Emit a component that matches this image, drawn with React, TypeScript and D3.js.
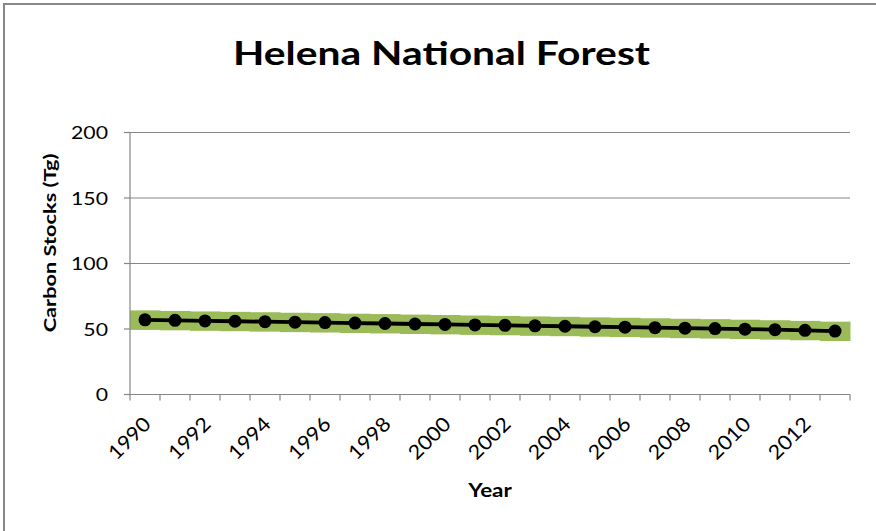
import React, { useEffect } from "react";
import * as d3 from "d3";

const years = [1990, 1991, 1992, 1993, 1994, 1995, 1996, 1997, 1998, 1999, 2000, 2001, 2002, 2003, 2004, 2005, 2006, 2007, 2008, 2009, 2010, 2011, 2012, 2013];
const carbon = [57.0, 56.6, 56.2, 55.9, 55.6, 55.2, 54.9, 54.5, 54.2, 53.8, 53.5, 53.1, 52.8, 52.4, 52.1, 51.7, 51.4, 51.0, 50.6, 50.3, 49.9, 49.5, 49.0, 48.4];
const bandHigh = [64.2, 63.8, 63.4, 63.1, 62.8, 62.4, 62.1, 61.7, 61.4, 61.0, 60.7, 60.3, 60.0, 59.6, 59.3, 58.9, 58.6, 58.2, 57.8, 57.5, 57.1, 56.7, 56.2, 55.6];
const bandLow = [49.4, 49.0, 48.6, 48.3, 48.0, 47.6, 47.3, 46.9, 46.6, 46.2, 45.9, 45.5, 45.2, 44.8, 44.5, 44.1, 43.8, 43.4, 43.0, 42.7, 42.3, 41.9, 41.4, 40.8];
const yTicks = [0, 50, 100, 150, 200];

const W = 876, H = 531;
const L = 130, R = 850, T = 132.5, B = 394.5;
const FONT = "Lato, 'Open Sans', sans-serif";

export default function App() {
  useEffect(() => {
    document.body.style.margin = "0";
  }, []);

  const x = d3.scaleBand<number>().domain(years).range([L, R]).padding(0);
  const y = d3.scaleLinear().domain([0, 200]).range([B, T]);
  const bw = x.bandwidth();
  const cx = (yr: number) => (x(yr) as number) + bw / 2;

  const line = d3.line<number>().x((_, i) => cx(years[i])).y((d) => y(d));
  const boundaries = years.map((yr) => x(yr) as number).concat([R]);

  return (
    <svg width={W} height={H} style={{ display: "block", background: "#fff" }}>
      <rect x={4} y={4} width={W + 20} height={H + 20} fill="#fff" stroke="#878787" strokeWidth={2} />
      <text x={441.5} y={65} textAnchor="middle" fontFamily={FONT} fontWeight="bold" fontSize={32} fill="#000" textLength={417} lengthAdjust="spacingAndGlyphs">
        Helena National Forest
      </text>
      {yTicks.filter((t) => t > 0).map((t) => (
        <line key={"g" + t} x1={L} x2={R} y1={y(t)} y2={y(t)} stroke="#868686" strokeWidth={1} />
      ))}
      {years.map((yr, i) => (
        <rect key={"b" + yr} x={x(yr) as number} width={bw + 0.5} y={y(bandHigh[i])} height={y(bandLow[i]) - y(bandHigh[i])} fill="#9BBB59" />
      ))}
      <line x1={L} x2={L} y1={T} y2={B} stroke="#868686" strokeWidth={1.2} />
      <line x1={L} x2={R} y1={B} y2={B} stroke="#868686" strokeWidth={1.2} />
      {yTicks.map((t) => (
        <g key={"y" + t}>
          <line x1={L - 6} x2={L} y1={y(t)} y2={y(t)} stroke="#868686" strokeWidth={1.2} />
          <text transform={`translate(108,${y(t) + 6.5}) scale(1.18,1)`} textAnchor="end" fontFamily={FONT} fontSize={18} fill="#000">
            {t}
          </text>
        </g>
      ))}
      {boundaries.map((bx, i) => (
        <line key={"xt" + i} x1={bx} x2={bx} y1={B} y2={B + 6} stroke="#868686" strokeWidth={1.2} />
      ))}
      {years.filter((_, i) => i % 2 === 0).map((yr) => (
        <text key={"xl" + yr} transform={`translate(${cx(yr) + 7},${B + 31}) rotate(-45) scale(1.08,1)`} textAnchor="end" fontFamily={FONT} fontSize={20} fill="#000">
          {yr}
        </text>
      ))}
      <path d={line(carbon) || ""} fill="none" stroke="#000" strokeWidth={3.8} />
      {carbon.map((v, i) => (
        <circle key={"c" + i} cx={cx(years[i])} cy={y(v)} r={6.5} fill="#000" />
      ))}
      <text transform={`translate(56,243) rotate(-90) scale(1.28,1)`} textAnchor="middle" fontFamily={FONT} fontWeight="bold" fontSize={17} fill="#000">
        Carbon Stocks (Tg)
      </text>
      <text transform={`translate(490,497) scale(1.18,1)`} textAnchor="middle" fontFamily={FONT} fontWeight="bold" fontSize={19} fill="#000">
        Year
      </text>
    </svg>
  );
}
